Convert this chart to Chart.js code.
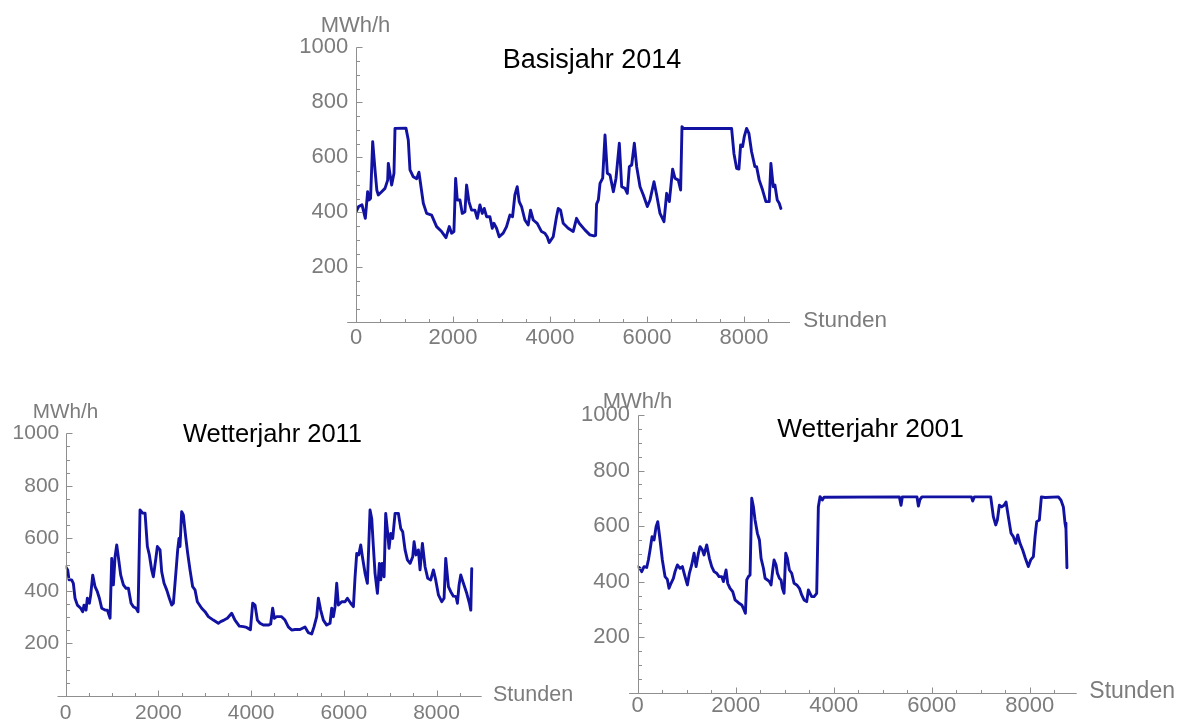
<!DOCTYPE html>
<html lang="de">
<head>
<meta charset="utf-8">
<title>Stündliche Leistung – Basisjahr und Wetterjahre</title>
<script src="https://cdn.jsdelivr.net/npm/chart.js@4.4.1/dist/chart.umd.min.js"></script>
<style>
  html, body { margin: 0; padding: 0; background: #ffffff; }
  #stage { position: relative; width: 1183px; height: 720px; overflow: hidden; }
  #stage canvas { position: absolute; left: 0; top: 0; }
</style>
</head>
<body>
<div id="stage">
  <canvas id="chartBasis" width="1183" height="720"></canvas>
  <canvas id="chart2011" width="1183" height="720"></canvas>
  <canvas id="chart2001" width="1183" height="720"></canvas>
</div>
<script>
// Stunden des Jahres (x) und Leistung in MWh/h (y)
const basisHours = [0, 55, 124, 192, 240, 270, 300, 344, 392, 430, 460, 529, 598, 653, 666, 700, 735, 783, 804, 1030, 1078, 1113, 1181, 1250, 1298, 1340, 1388, 1456, 1559, 1662, 1765, 1855, 1923, 1971, 2019, 2054, 2088, 2143, 2191, 2246, 2280, 2328, 2383, 2452, 2500, 2555, 2603, 2644, 2692, 2761, 2809, 2843, 2898, 2953, 3035, 3104, 3173, 3228, 3276, 3324, 3365, 3413, 3482, 3550, 3599, 3654, 3736, 3825, 3894, 3942, 3983, 4066, 4134, 4169, 4217, 4272, 4375, 4478, 4547, 4602, 4719, 4822, 4907, 4940, 4960, 4997, 5031, 5086, 5134, 5182, 5237, 5306, 5361, 5429, 5478, 5546, 5594, 5636, 5684, 5739, 5787, 5856, 5924, 6007, 6062, 6144, 6199, 6268, 6350, 6405, 6460, 6528, 6576, 6645, 6693, 6721, 6748, 7744, 7792, 7847, 7895, 7930, 7971, 8005, 8053, 8101, 8156, 8224, 8259, 8314, 8383, 8451, 8520, 8554, 8602, 8637, 8685, 8726, 8760];
const basisMW = [402, 421, 427, 378, 475, 445, 450, 657, 554, 480, 463, 475, 487, 517, 578, 540, 499, 542, 705, 706, 663, 554, 529, 522, 546, 493, 433, 396, 390, 348, 330, 308, 348, 324, 330, 523, 445, 445, 396, 402, 499, 439, 408, 408, 378, 427, 396, 414, 384, 384, 342, 360, 342, 311, 324, 348, 390, 384, 463, 493, 439, 421, 372, 354, 408, 372, 360, 330, 324, 311, 290, 311, 384, 414, 408, 360, 342, 330, 378, 360, 336, 318, 314, 316, 430, 445, 505, 524, 681, 542, 536, 475, 524, 651, 493, 487, 469, 566, 572, 651, 566, 493, 463, 421, 445, 511, 463, 396, 366, 469, 439, 557, 524, 517, 481, 711, 705, 705, 614, 560, 557, 645, 639, 675, 705, 687, 620, 566, 566, 517, 481, 439, 439, 578, 493, 499, 445, 433, 414];

const wetter2011Hours = [0, 43, 72, 129, 165, 201, 252, 324, 367, 395, 439, 467, 511, 539, 583, 633, 683, 727, 777, 849, 899, 957, 993, 1029, 1065, 1101, 1144, 1187, 1245, 1302, 1353, 1410, 1460, 1518, 1561, 1604, 1661, 1712, 1762, 1805, 1855, 1891, 1941, 1978, 2035, 2071, 2122, 2179, 2236, 2287, 2323, 2373, 2416, 2445, 2466, 2502, 2538, 2588, 2632, 2682, 2739, 2790, 2840, 2934, 3006, 3078, 3185, 3293, 3343, 3415, 3487, 3581, 3652, 3746, 3832, 3904, 3985, 4034, 4085, 4135, 4192, 4264, 4372, 4422, 4465, 4501, 4551, 4659, 4731, 4803, 4875, 4947, 5055, 5163, 5235, 5307, 5357, 5415, 5451, 5501, 5559, 5631, 5703, 5739, 5775, 5811, 5847, 5883, 5955, 6027, 6077, 6149, 6207, 6243, 6279, 6322, 6365, 6401, 6459, 6509, 6566, 6602, 6638, 6674, 6725, 6768, 6797, 6826, 6869, 6904, 6940, 6976, 7012, 7055, 7106, 7178, 7228, 7271, 7322, 7372, 7430, 7487, 7516, 7559, 7609, 7645, 7696, 7753, 7811, 7875, 7933, 7983, 8041, 8113, 8163, 8199, 8257, 8307, 8364, 8422, 8451, 8487, 8523, 8580, 8652, 8710, 8740, 8760];
const wetter2011MW = [492, 480, 442, 442, 429, 372, 346, 334, 321, 346, 327, 372, 353, 384, 460, 416, 397, 372, 334, 327, 327, 296, 524, 423, 530, 575, 518, 460, 423, 410, 410, 353, 340, 334, 321, 708, 696, 696, 569, 537, 480, 454, 518, 569, 556, 473, 429, 404, 372, 346, 353, 460, 556, 600, 569, 702, 689, 607, 543, 480, 416, 404, 359, 334, 321, 302, 289, 277, 283, 289, 296, 315, 289, 266, 264, 261, 252, 353, 346, 289, 277, 270, 270, 274, 334, 296, 302, 302, 289, 263, 251, 253, 253, 263, 241, 236, 263, 302, 372, 327, 289, 270, 277, 334, 302, 340, 429, 346, 359, 359, 372, 353, 340, 454, 543, 537, 575, 530, 467, 429, 708, 676, 568, 467, 391, 505, 442, 505, 454, 695, 632, 562, 619, 600, 695, 695, 638, 625, 556, 518, 505, 530, 587, 537, 556, 480, 581, 492, 448, 442, 480, 442, 385, 359, 372, 524, 416, 397, 380, 378, 353, 423, 461, 429, 391, 353, 327, 485];

const wetter2001Hours = [0, 48, 82, 129, 184, 218, 252, 293, 334, 375, 409, 456, 503, 558, 605, 639, 680, 728, 762, 810, 864, 912, 966, 1014, 1055, 1102, 1150, 1191, 1239, 1273, 1320, 1354, 1409, 1463, 1511, 1559, 1613, 1660, 1715, 1749, 1803, 1837, 1885, 1939, 1987, 2055, 2123, 2171, 2198, 2225, 2259, 2293, 2327, 2361, 2395, 2443, 2484, 2518, 2566, 2600, 2648, 2688, 2722, 2756, 2783, 2824, 2851, 2892, 2926, 2953, 2987, 3021, 3055, 3096, 3143, 3191, 3246, 3300, 3347, 3395, 3449, 3483, 3517, 3551, 3599, 3653, 3687, 3721, 3768, 3802, 5340, 5374, 5400, 5700, 5728, 5760, 5800, 6810, 6837, 6870, 7204, 7258, 7306, 7340, 7381, 7428, 7476, 7517, 7564, 7619, 7666, 7714, 7755, 7802, 7857, 7911, 7972, 8020, 8075, 8109, 8143, 8197, 8238, 8313, 8585, 8639, 8687, 8721, 8740, 8760];
const wetter2001MW = [454, 448, 436, 454, 451, 478, 514, 562, 550, 598, 616, 550, 478, 418, 408, 376, 394, 412, 436, 460, 448, 454, 418, 388, 430, 460, 502, 454, 502, 526, 514, 496, 532, 484, 454, 436, 430, 418, 418, 400, 442, 394, 376, 364, 334, 324, 316, 298, 286, 406, 418, 424, 700, 670, 622, 574, 550, 484, 448, 412, 406, 400, 388, 442, 478, 460, 430, 412, 406, 376, 358, 502, 484, 442, 430, 394, 388, 376, 352, 334, 328, 370, 358, 346, 346, 358, 670, 706, 694, 704, 705, 675, 705, 705, 672, 695, 705, 705, 690, 705, 705, 634, 604, 622, 675, 669, 675, 687, 634, 574, 562, 538, 568, 538, 514, 484, 454, 478, 490, 562, 616, 622, 705, 703, 705, 693, 669, 610, 590, 450];

// Achsenbeschriftung
const xTickValues = [0, 2000, 4000, 6000, 8000];
const yTickValues = [200, 400, 600, 800, 1000];
const yUnitLabel = 'MWh/h';
const xUnitLabel = 'Stunden';

const LINE_COLOR = '#1212a2';
const AXIS_COLOR = '#8f8f8f';
const LABEL_COLOR = '#7c7c7c';
const FONT = "'Liberation Sans', Arial, Helvetica, sans-serif";
const PAGE_W = 1183, PAGE_H = 720;

// Axes crossing at the origin, inward ticks, axis captions and panel title
const axisDecor = {
  id: 'axisDecor',
  afterDraw(chart, args, o) {
    const { ctx, chartArea } = chart;
    const x = chart.scales.x, y = chart.scales.y;
    const x0 = Math.round(x.getPixelForValue(0)) + 0.5;
    const y0 = Math.round(y.getPixelForValue(0)) + 0.5;
    const yTopPx = Math.round(y.getPixelForValue(y.max)) + 0.5;
    ctx.save();
    ctx.strokeStyle = AXIS_COLOR;
    ctx.lineWidth = 1;
    ctx.beginPath();
    ctx.moveTo(x0 - o.stub, y0);
    ctx.lineTo(chartArea.right, y0);
    ctx.moveTo(x0, y0);
    ctx.lineTo(x0, yTopPx);
    for (let v = 500; v <= x.max; v += 500) {
      const px = Math.round(x.getPixelForValue(v)) + 0.5;
      const len = v % 2000 === 0 ? o.major : o.minor;
      ctx.moveTo(px, y0);
      ctx.lineTo(px, y0 - len);
    }
    for (let v = 50; v <= y.max; v += 50) {
      const py = Math.round(y.getPixelForValue(v)) + 0.5;
      const len = v % 200 === 0 ? o.major : o.minor;
      ctx.moveTo(x0, py);
      ctx.lineTo(x0 + len, py);
    }
    ctx.stroke();

    ctx.textBaseline = 'alphabetic';
    ctx.fillStyle = LABEL_COLOR;
    ctx.textAlign = 'center';
    ctx.font = o.unitSize + 'px ' + FONT;
    ctx.fillText(yUnitLabel, x0 + o.unitShift, o.unitBase);
    ctx.textAlign = 'left';
    ctx.font = o.stundenSize + 'px ' + FONT;
    ctx.fillText(xUnitLabel, o.stundenX, o.stundenBase);

    ctx.fillStyle = '#000000';
    ctx.textAlign = 'center';
    ctx.font = o.titleSize + 'px ' + FONT;
    ctx.fillText(o.title, o.titleX, o.titleBase);
    ctx.restore();
  }
};

function drawPanel(canvasId, hours, values, p) {
  const yAxisW = 60;
  const xAxisH = Math.min(30, PAGE_H - p.oy);
  new Chart(document.getElementById(canvasId), {
    type: 'line',
    data: {
      datasets: [{
        data: hours.map((h, i) => ({ x: h, y: values[i] })),
        borderColor: LINE_COLOR,
        borderWidth: 2.9,
        borderJoinStyle: 'round',
        borderCapStyle: 'round',
        pointRadius: 0,
        tension: 0,
        fill: false
      }]
    },
    options: {
      responsive: false,
      animation: false,
      events: [],
      layout: {
        padding: {
          left: p.ox - yAxisW,
          right: PAGE_W - p.xEnd,
          top: p.yTop,
          bottom: PAGE_H - p.oy - xAxisH
        }
      },
      plugins: {
        legend: { display: false },
        tooltip: { enabled: false },
        title: { display: false },
        axisDecor: p
      },
      scales: {
        x: {
          type: 'linear',
          position: 'bottom',
          min: 0,
          max: p.xMax,
          afterFit(s) { s.height = xAxisH; },
          afterBuildTicks(s) { s.ticks = xTickValues.map(v => ({ value: v })); },
          border: { display: false },
          grid: { display: false, drawTicks: false },
          ticks: {
            color: LABEL_COLOR,
            font: { family: FONT, size: p.tickSize },
            padding: p.xLabelPad,
            maxRotation: 0,
            autoSkip: false,
            callback: v => String(v)
          }
        },
        y: {
          type: 'linear',
          position: 'left',
          min: 0,
          max: 1000,
          afterFit(s) { s.width = yAxisW; },
          afterBuildTicks(s) { s.ticks = yTickValues.map(v => ({ value: v })); },
          border: { display: false },
          grid: { display: false, drawTicks: false },
          ticks: {
            color: LABEL_COLOR,
            font: { family: FONT, size: p.tickSize },
            padding: p.yLabelPad,
            autoSkip: false,
            callback: v => String(v)
          }
        }
      }
    },
    plugins: [axisDecor]
  });
}

drawPanel('chartBasis', basisHours, basisMW, {
  ox: 356, oy: 322.3, yTop: 47.3, xEnd: 790, xMax: 8948,
  stub: 9.3, major: 6, minor: 3.5, tickSize: 22, xLabelPad: 2, yLabelPad: 7.7,
  title: 'Basisjahr 2014', titleX: 592, titleBase: 68.3, titleSize: 27,
  unitSize: 22, unitShift: -1, unitBase: 31.7,
  stundenX: 803.3, stundenBase: 327.3, stundenSize: 22.5
});

drawPanel('chart2011', wetter2011Hours, wetter2011MW, {
  ox: 65.7, oy: 696, yTop: 433.3, xEnd: 481.7, xMax: 8975,
  stub: 9, major: 6, minor: 3.5, tickSize: 21, xLabelPad: 5, yLabelPad: 6.4,
  title: 'Wetterjahr 2011', titleX: 272.5, titleBase: 441.7, titleSize: 25.5,
  unitSize: 20.7, unitShift: -1, unitBase: 418.3,
  stundenX: 493, stundenBase: 701, stundenSize: 21.5
});

drawPanel('chart2001', wetter2001Hours, wetter2001MW, {
  ox: 637.7, oy: 692.7, yTop: 415, xEnd: 1076.7, xMax: 8959,
  stub: 9.4, major: 6, minor: 3.5, tickSize: 22, xLabelPad: 0.5, yLabelPad: 7.7,
  title: 'Wetterjahr 2001', titleX: 870.5, titleBase: 437.3, titleSize: 26.3,
  unitSize: 22, unitShift: -1, unitBase: 408.3,
  stundenX: 1089.3, stundenBase: 698.3, stundenSize: 23
});
</script>
</body>
</html>
